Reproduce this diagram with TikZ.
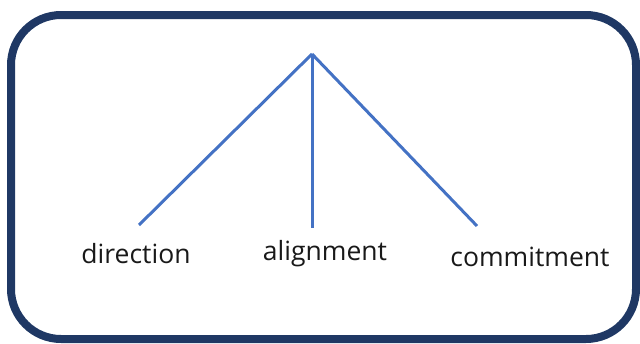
\documentclass[tikz,border=0pt]{standalone}
\usepackage{fontspec}
\setmainfont{Open Sans}
\definecolor{navy}{HTML}{1F3864}
\definecolor{lineblue}{HTML}{4472C4}
\begin{document}
\begin{tikzpicture}[x=1pt,y=-1pt,
  branch/.style={draw=lineblue,line width=3pt},
  lbl/.style={font=\fontsize{26.5}{30}\selectfont,text=black!90,inner sep=0pt}]
\useasboundingbox (0,0) rectangle (640,343);
\draw[navy,line width=8pt,rounded corners=50pt] (11,15) rectangle (636,339);
\coordinate (apex) at (312,54);
\coordinate (l) at (139,225);
\coordinate (m) at (312,228);
\coordinate (r) at (477,226);
\draw[branch] (apex) -- (l);
\draw[branch] (apex) -- (m);
\draw[branch] (apex) -- (r);
\node[lbl] (d) at (136,254) {direction};
\node[lbl] (a) at (325,254) {alignment};
\node[lbl] (c) at (530,257) {commitment};
\end{tikzpicture}
\end{document}
